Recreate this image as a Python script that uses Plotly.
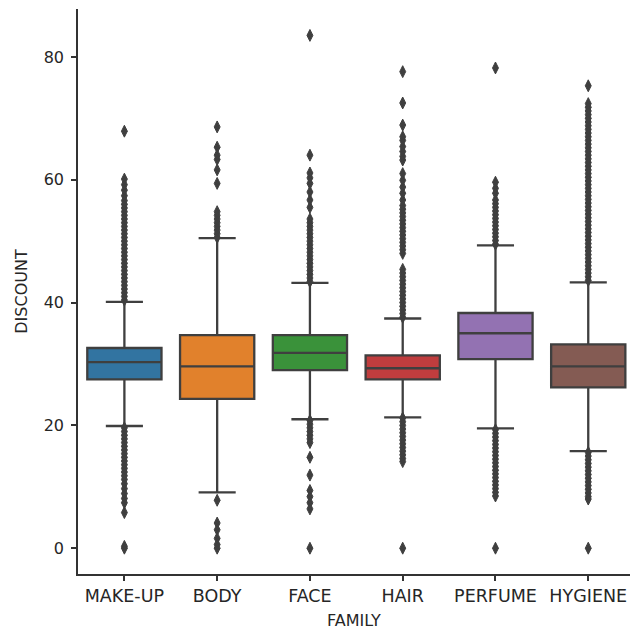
import plotly.graph_objects as go

categories = ["MAKE-UP", "BODY", "FACE", "HAIR", "PERFUME", "HYGIENE"]
q1 = [27.5, 24.3, 29.0, 27.5, 30.8, 26.2]
median = [30.3, 29.6, 31.8, 29.3, 35.0, 29.6]
q3 = [32.6, 34.7, 34.7, 31.4, 38.3, 33.2]
lower_whisker = [19.9, 9.1, 21.0, 21.3, 19.5, 15.8]
upper_whisker = [40.1, 50.5, 43.2, 37.4, 49.3, 43.3]
box_colors = ["#3274a1", "#e1812c", "#3a923a", "#c03d3e", "#9372b2", "#845b53"]

outliers_makeup = [
    40.4, 41.0, 41.6, 42.2, 42.8, 43.4, 44.0, 44.6, 45.2, 45.8, 46.4, 47.0,
    47.6, 48.2, 48.8, 49.4, 50.0, 50.6, 51.2, 51.8, 52.4, 53.0, 53.6, 54.2,
    54.8, 55.4, 56.0, 56.6, 57.4, 58.3, 59.2, 60.1, 67.9,
    19.6, 19.0, 18.4, 17.8, 17.2, 16.6, 16.0, 15.4, 14.8, 14.2, 13.6, 13.0,
    12.4, 11.8, 11.2, 10.5, 9.7, 8.9, 8.1, 7.4, 5.8, 0.3, 0.0,
]
outliers_body = [
    50.6, 51.2, 51.8, 52.4, 53.0, 53.6, 54.2, 54.8,
    59.4, 61.6, 63.3, 64.0, 65.3, 68.6,
    7.8, 4.1, 3.0, 1.6, 0.6, 0.0,
]
outliers_face = [
    43.4, 44.0, 44.6, 45.2, 45.8, 46.4, 47.0, 47.6, 48.2, 48.8, 49.4, 50.0,
    50.6, 51.2, 51.8, 52.4, 53.0, 53.6, 55.5, 56.7, 58.0, 59.4, 60.3, 61.1,
    64.0, 83.5,
    20.8, 20.2, 19.6, 19.0, 18.4, 17.8, 17.2, 14.8, 11.9, 9.4, 8.4, 7.4,
    6.4, 0.0,
]
outliers_hair = [
    37.6, 38.2, 38.8, 39.4, 40.0, 40.6, 41.2, 41.8, 42.4, 43.0, 43.6, 44.2,
    44.8, 45.4, 48.0, 48.6, 49.2, 49.8, 50.4, 51.0, 51.6, 52.2, 52.8, 53.4,
    54.0, 54.6, 55.2, 55.8, 56.7, 57.8, 58.8, 59.9, 61.0, 63.2, 63.8, 64.6,
    65.4, 66.4, 67.0, 68.9, 72.5, 77.6,
    21.2, 20.6, 20.0, 19.4, 18.8, 18.2, 17.6, 17.0, 16.4, 15.8, 15.2, 14.6,
    14.1, 0.0,
]
outliers_perfume = [
    49.5, 50.1, 50.7, 51.3, 51.9, 52.5, 53.1, 53.7, 54.3, 54.9, 55.5, 56.1,
    56.7, 57.8, 58.6, 59.6, 78.2,
    19.3, 18.7, 18.1, 17.5, 16.9, 16.3, 15.7, 15.1, 14.5, 13.9, 13.3, 12.7,
    12.1, 11.5, 10.9, 10.3, 9.7, 9.1, 8.5, 0.0,
]
outliers_hygiene = [
    43.6, 44.2, 44.8, 45.4, 46.0, 46.6, 47.2, 47.8, 48.4, 49.0, 49.6, 50.2,
    50.8, 51.4, 52.0, 52.6, 53.2, 53.8, 54.4, 55.0, 55.6, 56.2, 56.8, 57.4,
    58.0, 58.6, 59.2, 59.8, 60.4, 61.0, 61.6, 62.2, 62.8, 63.4, 64.0, 64.6,
    65.2, 65.8, 66.4, 67.0, 67.6, 68.2, 68.8, 69.4, 70.0, 70.6, 71.2, 71.8,
    72.4, 75.3,
    15.6, 15.0, 14.4, 13.8, 13.2, 12.6, 12.0, 11.4, 10.8, 10.2, 9.6, 9.0,
    8.4, 8.0, 0.0,
]
outliers = [outliers_makeup, outliers_body, outliers_face, outliers_hair,
            outliers_perfume, outliers_hygiene]

GRAY = "#3f3f3f"
FONT = "DejaVu Sans"
TXT = "#262626"

fig = go.Figure()
for i, cat in enumerate(categories):
    fig.add_trace(go.Box(
        x=[cat], q1=[q1[i]], median=[median[i]], q3=[q3[i]],
        lowerfence=[lower_whisker[i]], upperfence=[upper_whisker[i]],
        boxpoints=False, width=0.8, whiskerwidth=0.5,
        fillcolor=box_colors[i], line=dict(color=GRAY, width=2.3),
        showlegend=False, hoverinfo="skip",
    ))
    fig.add_trace(go.Scatter(
        x=[cat] * len(outliers[i]), y=outliers[i], mode="markers",
        marker=dict(symbol="diamond-tall", size=8.5, color=GRAY,
                    line=dict(color=GRAY, width=1)),
        showlegend=False, hoverinfo="skip",
    ))

axis_common = dict(
    showline=True, linecolor="#333333", linewidth=1.6, ticks="outside",
    ticklen=5, tickwidth=1.5, tickcolor="#333333", showgrid=False,
    zeroline=False, mirror=False, automargin=False,
)
fig.update_layout(
    width=630, height=630,
    margin=dict(l=78, r=0, t=9, b=56),
    plot_bgcolor="white", paper_bgcolor="white",
    font=dict(family=FONT, size=16, color=TXT),
    xaxis=dict(**axis_common, type="category", categoryorder="array",
               categoryarray=categories, range=[-0.5, 5.45],
               tickfont=dict(family=FONT, size=17.5, color=TXT),
               title=dict(text="FAMILY", standoff=11,
                          font=dict(family=FONT, size=16, color=TXT))),
    yaxis=dict(**axis_common, range=[-4.2, 87.8], tickvals=[0, 20, 40, 60, 80],
               ticklabelstandoff=4,
               tickfont=dict(family=FONT, size=16, color=TXT),
               title=dict(text="DISCOUNT", standoff=12,
                          font=dict(family=FONT, size=16, color=TXT))),
)
fig.write_html(
    "out.html",
    config={"displayModeBar": False},
    post_script="document.body.style.margin='0';document.body.style.overflow='hidden';",
)
